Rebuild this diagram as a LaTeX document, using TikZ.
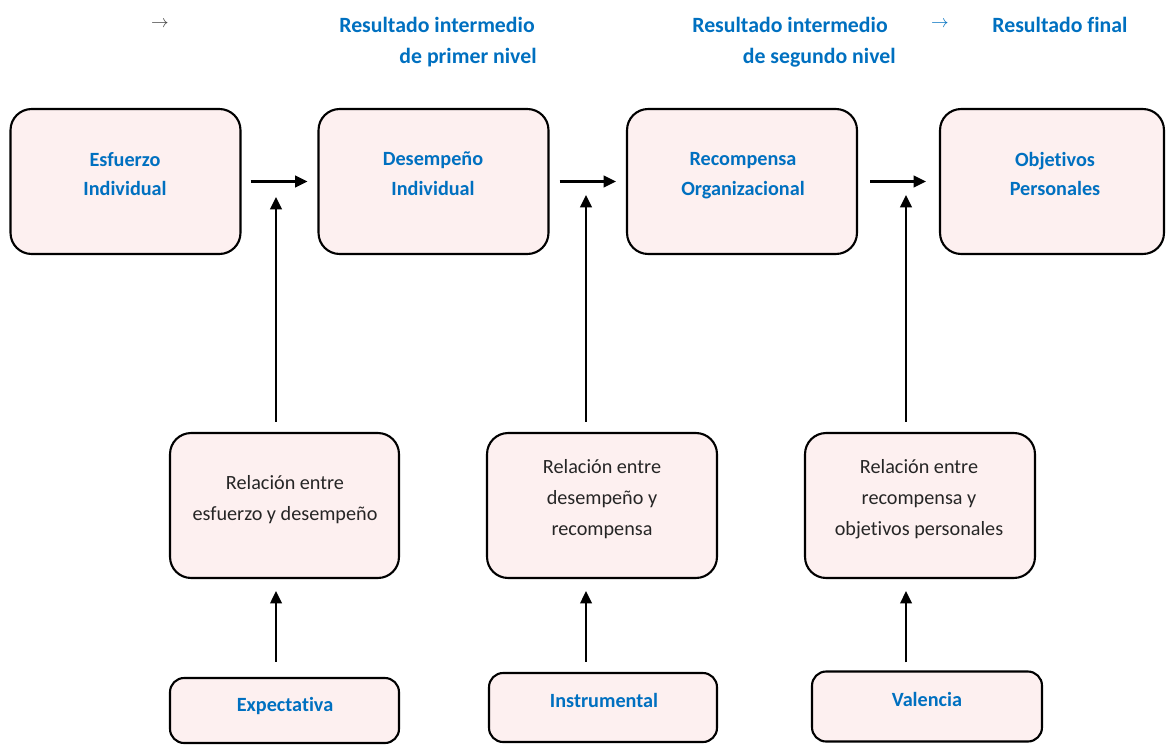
\documentclass[tikz,border=0pt]{standalone}
\usepackage{fontspec}
\setmainfont{Carlito}[Ligatures=NoCommon]
\usetikzlibrary{arrows.meta}
\definecolor{azul}{HTML}{0070C0}
\definecolor{rosa}{HTML}{FDF0F0}
\tikzset{
  caja/.style={draw, line width=1.2pt, fill=rosa, rounded corners=12pt, minimum width=4.6cm, minimum height=2.9cm, inner sep=0pt},
  cajab/.style={caja, rounded corners=8pt, minimum height=1.38cm},
  titulo/.style={align=center, text=azul, font=\bfseries\fontsize{11.5}{17}\selectfont},
  texto/.style={align=center, text=black!85, font=\fontsize{11.5}{17.6}\selectfont},
  cabecera/.style={text=azul, font=\bfseries\fontsize{12.4}{18}\selectfont, inner sep=0pt},
  flecha/.style={line width=1.3pt, -{Triangle[length=7pt,width=6.5pt]}}
}
\begin{document}
\begin{tikzpicture}[x=0.02cm, y=-0.02cm]
            \useasboundingbox (0,0) rectangle (1166,744);

            \node (f0) at (160,24) [text=black!75, font=\fontsize{10}{10}\selectfont, inner sep=0pt] {$\rightarrow$};
            \node (h1a) at (535,25) [cabecera, anchor=east] {Resultado intermedio};
            \node (h1b) at (537,58) [cabecera, anchor=east] {de primer nivel};
            \node (h2a) at (888,25) [cabecera, anchor=east] {Resultado intermedio};
            \node (h2b) at (896,58) [cabecera, anchor=east] {de segundo nivel};
            \node (f1) at (940,24) [text=azul, font=\fontsize{10}{10}\selectfont, inner sep=0pt] {$\rightarrow$};
            \node (h3) at (992,25) [cabecera, anchor=west] {Resultado final};

            \node (esf) at (125.5,181.5) [caja] {};
            \node (des) at (433.5,181.5) [caja] {};
            \node (rec) at (742,181.5) [caja] {};
            \node (obj) at (1052,181.5) [caja, minimum width=4.48cm] {};
            \node (esfT) at (125,174) [titulo] {Esfuerzo\\Individual};
            \node (desT) at (433,174) [titulo] {Desempeño\\Individual};
            \node (recT) at (743,176) [titulo] {Recompensa\\Organizacional};
            \node (objT) at (1055,174) [titulo] {Objetivos\\Personales};

            \node (rel1) at (284.5,505.5) [caja, minimum width=4.58cm] {};
            \node (rel2) at (602,505.5) [caja, minimum width=4.6cm] {};
            \node (rel3) at (920,505.5) [caja, minimum width=4.6cm] {};
            \node (rel1T) at (285,500) [texto] {Relación entre\\esfuerzo y desempeño};
            \node (rel2T) at (602,499) [texto] {Relación entre\\desempeño y\\recompensa};
            \node (rel3T) at (919,499) [texto] {Relación entre\\recompensa y\\objetivos personales};

            \node (exp) at (284.5,710.5) [cajab, minimum width=4.58cm, minimum height=1.3cm] {};
            \node (ins) at (603,707.5) [cajab, minimum width=4.56cm] {};
            \node (val) at (927,706.5) [cajab, minimum width=4.6cm, minimum height=1.4cm] {};
            \node (expT) at (285,706) [titulo] {Expectativa};
            \node (insT) at (604,700) [titulo] {Instrumental};
            \node (valT) at (927,699) [titulo] {Valencia};

            \coordinate (p1) at (276,197);
            \coordinate (p2) at (586,195);
            \coordinate (p3) at (906,195);

            \draw[flecha, shorten <=0.18cm, shorten >=0.2cm] (esf) -- (des);
            \draw[flecha, shorten <=0.2cm, shorten >=0.2cm] (des) -- (rec);
            \draw[flecha, shorten <=0.24cm, shorten >=0.26cm] (rec) -- (obj);

            \draw[flecha, shorten <=0.2cm] (rel1.north -| p1) -- (p1);
            \draw[flecha, shorten <=0.2cm] (rel2.north -| p2) -- (p2);
            \draw[flecha, shorten <=0.2cm] (rel3.north -| p3) -- (p3);

            \draw[flecha, shorten <=0.3cm, shorten >=0.24cm] (exp.north -| p1) -- (rel1.south -| p1);
            \draw[flecha, shorten <=0.2cm, shorten >=0.24cm] (ins.north -| p2) -- (rel2.south -| p2);
            \draw[flecha, shorten <=0.16cm, shorten >=0.24cm] (val.north -| p3) -- (rel3.south -| p3);
        \end{tikzpicture}
\end{document}
